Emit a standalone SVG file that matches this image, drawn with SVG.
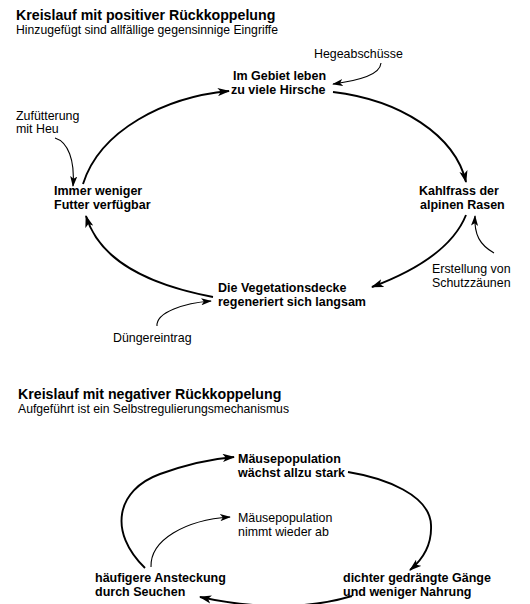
<svg xmlns="http://www.w3.org/2000/svg" width="530" height="604" viewBox="0 0 530 604">
<style>
text{font-family:"Liberation Sans",Arial,Helvetica,sans-serif;fill:#000}
.t{font-size:14.2px;font-weight:bold}
.s{font-size:12.2px}
.r{font-size:12.4px}
.b{font-size:12.5px;font-weight:bold}
.main{fill:none;stroke:#000;stroke-width:1.9;marker-end:url(#ah)}
.thin{fill:none;stroke:#000;stroke-width:1.1;marker-end:url(#ah2)}
</style>
<defs>
<marker id="ah" viewBox="0 0 12 8" refX="11" refY="4" markerWidth="6.5" markerHeight="4.5" orient="auto" markerUnits="strokeWidth">
<path d="M0,0 L12,4 L0,8 L3,4 z" fill="#000"/>
</marker>
<marker id="ah2" viewBox="0 0 12 8" refX="11" refY="4" markerWidth="10" markerHeight="6.5" orient="auto" markerUnits="strokeWidth">
<path d="M0,0 L12,4 L0,8 L3,4 z" fill="#000"/>
</marker>
</defs>
<rect width="530" height="604" fill="#fff"/>
<g id="heading1">
<text class="t" x="16" y="20">Kreislauf mit positiver Rückkoppelung</text>
<text class="s" x="16" y="33.5">Hinzugefügt sind allfällige gegensinnige Eingriffe</text>
</g>
<g id="n-hirsche"><text class="b" x="233" y="80">Im Gebiet leben</text><text class="b" x="231" y="94">zu viele Hirsche</text></g>
<g id="n-hege"><text class="r" x="314" y="58">Hegeabschüsse</text></g>
<g id="n-zufuetterung"><text class="r" x="16" y="120">Zufütterung</text><text class="r" x="16" y="133">mit Heu</text></g>
<g id="n-futter"><text class="b" x="54" y="195">Immer weniger</text><text class="b" x="54" y="209">Futter verfügbar</text></g>
<g id="n-kahlfrass"><text class="b" x="419" y="195">Kahlfrass der</text><text class="b" x="420" y="209">alpinen Rasen</text></g>
<g id="n-schutz"><text class="r" x="432" y="273">Erstellung von</text><text class="r" x="432" y="287">Schutzzäunen</text></g>
<g id="n-vegetation"><text class="b" x="218" y="292">Die Vegetationsdecke</text><text class="b" x="218" y="306">regeneriert sich langsam</text></g>
<g id="n-duenger"><text class="r" x="113" y="342">Düngereintrag</text></g>
<g id="heading2">
<text class="t" x="18" y="399">Kreislauf mit negativer Rückkoppelung</text>
<text class="s" x="18" y="412.5">Aufgeführt ist ein Selbstregulierungsmechanismus</text>
</g>
<g id="n-maeuse-stark"><text class="b" x="238" y="463">Mäusepopulation</text><text class="b" x="238" y="477">wächst allzu stark</text></g>
<g id="n-maeuse-ab"><text class="r" x="238" y="522">Mäusepopulation</text><text class="r" x="238" y="536">nimmt wieder ab</text></g>
<g id="n-seuchen"><text class="b" x="95" y="582">häufigere Ansteckung</text><text class="b" x="95" y="596">durch Seuchen</text></g>
<g id="n-gaenge"><text class="b" x="343" y="582">dichter gedrängte Gänge</text><text class="b" x="343" y="596">und weniger Nahrung</text></g>
<g id="connectors">
<path class="main" d="M83,184 C100,130 165,97 229,91"/>
<path class="main" d="M333,92 C400,100 455,135 466,182"/>
<path class="main" d="M466,215 C452,250 412,272 372,287"/>
<path class="main" d="M213,297 C150,285 100,262 86,216"/>
<path class="thin" d="M381,63 C380,75 360,80 333,84"/>
<path class="thin" d="M55,138 C68,142 75,160 73,186"/>
<path class="thin" d="M494,253 C480,245 474,235 475,216"/>
<path class="thin" d="M157,326 C156,312 185,303 211,301"/>
<path class="main" d="M145,568 C108,532 116,490 160,474 C185,465 210,459 234,457"/>
<path class="main" d="M348,472 C385,478 430,495 431,525 C432,545 422,560 410,570"/>
<path class="main" d="M352,596 C300,612 240,606 200,597"/>
<path class="thin" d="M151,567 C150,540 185,520 230,517"/>
</g>
</svg>
